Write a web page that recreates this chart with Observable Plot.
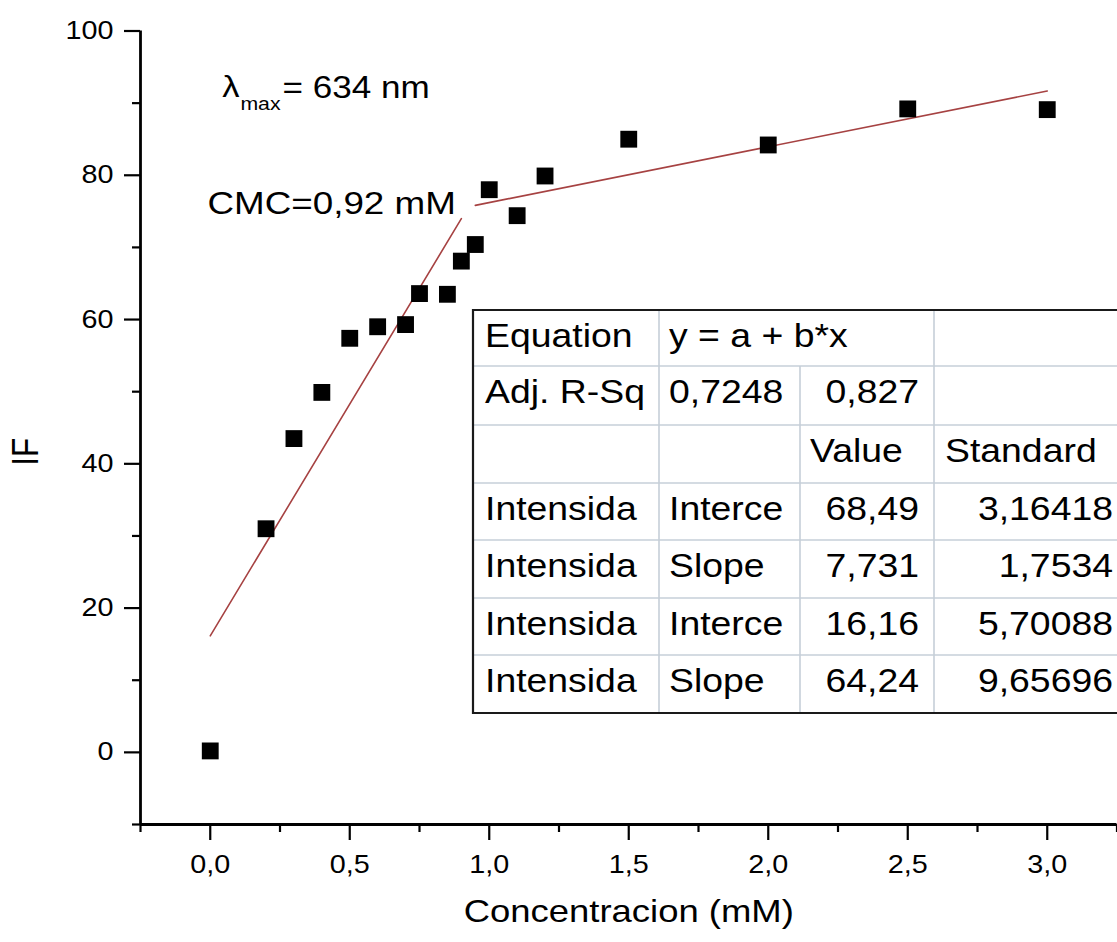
<!DOCTYPE html>
<html>
<head>
<meta charset="utf-8">
<script src="https://cdn.jsdelivr.net/npm/d3@7"></script>
<script src="https://cdn.jsdelivr.net/npm/@observablehq/plot@0.6"></script>
<style>
html, body { margin: 0; padding: 0; background: #fff; overflow: hidden; }
#chart svg { display: block; overflow: hidden; }
</style>
</head>
<body>
<div id="chart"></div>
<script>
// ---- data ----
const concentration = [0, 0.2, 0.3, 0.4, 0.5, 0.6, 0.7, 0.75, 0.85, 0.9, 0.95, 1.0, 1.1, 1.2, 1.5, 2.0, 2.5, 3.0];
const intensity     = [0.2, 31.0, 43.5, 49.9, 57.4, 59.0, 59.3, 63.6, 63.5, 68.1, 70.4, 78.0, 74.4, 79.9, 85.0, 84.2, 89.2, 89.1];

// linear fit segments (end points of the drawn fit lines)
const fitLowX  = [0, 0.9];
const fitLowY  = [16.16, 73.98];
const fitHighX = [0.95, 3.0];
const fitHighY = [75.83, 91.68];

const xMajorTicks = [0, 0.5, 1.0, 1.5, 2.0, 2.5, 3.0];
const xMinorTicks = [-0.25, 0.25, 0.75, 1.25, 1.75, 2.25, 2.75, 3.25];
const yMajorTicks = [0, 20, 40, 60, 80, 100];
const yMinorTicks = [-10, 10, 30, 50, 70, 90];

const xLabel = "Concentracion (mM)";
const yLabel = "IF";
const cmcLabel = "CMC=0,92 mM";
const lambdaParts = ["λ", "max", "= 634 nm"];

// fit-result table (text only)
const tableRows = [
  ["Equation", "y = a + b*x", "", ""],
  ["Adj. R-Sq", "0,7248", "0,827", ""],
  ["", "", "Value", "Standard"],
  ["Intensida", "Interce", "68,49", "3,16418"],
  ["Intensida", "Slope", "7,731", "1,7534"],
  ["Intensida", "Interce", "16,16", "5,70088"],
  ["Intensida", "Slope", "64,24", "9,65696"]
];

// ---- build tables for Plot ----
const points = concentration.map((c, i) => ({c, v: intensity[i]}));
const fitLow = fitLowX.map((x, i) => ({x, y: fitLowY[i]}));
const fitHigh = fitHighX.map((x, i) => ({x, y: fitHighY[i]}));

const FONT = "'Liberation Sans', Arial, Helvetica, sans-serif";
const commaFmt = d => d.toFixed(1).replace(".", ",");
const fitColor = "#a64242";

const plot = Plot.plot({
  width: 1117,
  height: 942,
  marginTop: 30.5,
  marginBottom: 118,
  marginLeft: 140,
  marginRight: 0.5,
  x: {domain: [-0.25, 3.25]},
  y: {domain: [-10, 100]},
  style: {fontFamily: FONT, background: "white", color: "black", overflow: "hidden"},
  marks: [
    Plot.axisX({ticks: xMajorTicks, tickSize: 16, tickPadding: 15, tickFormat: commaFmt, fontSize: 25, strokeWidth: 2.2, label: null}),
    Plot.axisX({ticks: xMinorTicks, tickSize: 8, tickFormat: () => "", strokeWidth: 2.2, label: null}),
    Plot.axisY({ticks: yMajorTicks, tickSize: 16, tickPadding: 11, tickFormat: d => String(d), fontSize: 25, strokeWidth: 2.2, label: null}),
    Plot.axisY({ticks: yMinorTicks, tickSize: 8, tickFormat: () => "", strokeWidth: 2.2, label: null}),
    Plot.ruleY([-10], {stroke: "black", strokeWidth: 2.8}),
    Plot.ruleX([-0.25], {stroke: "black", strokeWidth: 2.8}),
    Plot.line(fitLow, {x: "x", y: "y", stroke: fitColor, strokeWidth: 1.6}),
    Plot.line(fitHigh, {x: "x", y: "y", stroke: fitColor, strokeWidth: 1.6}),
    Plot.dot(points, {x: "c", y: "v", symbol: "square", r: 9.5, fill: "black", stroke: "none"}),
    // annotations
    Plot.text([lambdaParts[0]], {x: [0.043], y: [90.79], textAnchor: "start", lineAnchor: "bottom", fontSize: 30, fill: "black"}),
    Plot.text([lambdaParts[1]], {x: [0.108], y: [89.0], textAnchor: "start", lineAnchor: "bottom", fontSize: 18.5, fill: "black"}),
    Plot.text([lambdaParts[2]], {x: [0.259], y: [90.75], textAnchor: "start", lineAnchor: "bottom", fontSize: 30.5, fill: "black"}),
    Plot.text([cmcLabel], {x: [-0.01], y: [74.67], textAnchor: "start", lineAnchor: "bottom", fontSize: 32, fill: "black"}),
    // axis titles
    Plot.text([xLabel], {frameAnchor: "bottom", dy: 97.7, lineAnchor: "bottom", textAnchor: "middle", fontSize: 31.7, fill: "black"}),
    Plot.text([yLabel], {frameAnchor: "left", dx: -114, dy: 24, rotate: -90, lineAnchor: "middle", textAnchor: "middle", fontSize: 31.5, fill: "black"})
  ]
});

// ---- fit table drawn into the same svg ----
const svg = d3.select(plot);
const rowY = [310, 366, 425, 483, 540, 598, 655, 713];
const colX = [473, 659, 800, 934];
const tRight = 1140;
const tbl = svg.append("g").attr("font-family", FONT).attr("font-size", 32.5);
tbl.append("rect").attr("x", colX[0]).attr("y", rowY[0]).attr("width", tRight - colX[0]).attr("height", rowY[7] - rowY[0]).attr("fill", "white");
const grid = "#c6cfd8";
for (let r = 1; r < 7; r++) {
  tbl.append("line").attr("x1", colX[0]).attr("x2", tRight).attr("y1", rowY[r]).attr("y2", rowY[r]).attr("stroke", grid).attr("stroke-width", 1.6);
}
for (let r = 0; r < 7; r++) {
  [1, 2, 3].forEach(c => {
    if (r === 0 && c === 2) return; // merged cell for the equation
    tbl.append("line").attr("x1", colX[c]).attr("x2", colX[c]).attr("y1", rowY[r]).attr("y2", rowY[r + 1]).attr("stroke", grid).attr("stroke-width", 1.6);
  });
}
// outer border
tbl.append("path")
  .attr("d", `M${tRight},${rowY[0]}H${colX[0]}V${rowY[7]}H${tRight}`)
  .attr("fill", "none").attr("stroke", "#1a1a1a").attr("stroke-width", 2.2);

// cell text positions
function cellPos(r, c) {
  if (c === 0) return {x: 485, anchor: "start"};
  if (c === 1) return {x: 669, anchor: "start"};
  if (c === 2) return r === 2 ? {x: 810, anchor: "start"} : {x: 919, anchor: "end"};
  return r === 2 ? {x: 945, anchor: "start"} : {x: 1113, anchor: "end"};
}
tableRows.forEach((row, r) => {
  row.forEach((txt, c) => {
    if (!txt) return;
    const p = cellPos(r, c);
    tbl.append("text")
      .attr("transform", `translate(${p.x},${rowY[r] + 37})`)
      .attr("text-anchor", p.anchor)
      .attr("fill", "black")
      .text(txt);
  });
});

// ---- horizontal stretch of all text (the reference's type is ~15% wide) ----
const S = 1.15;
plot.querySelectorAll("text").forEach(t => {
  const tr = t.getAttribute("transform") || "";
  const m = tr.match(/^\s*translate\(\s*([-\d.eE]+)[\s,]+([-\d.eE]+)\s*\)/);
  let ax, ay;
  if (m) {
    ax = +m[1]; ay = +m[2];
    if (!/rotate/.test(tr)) ax += parseFloat(t.getAttribute("x") || 0) || 0;
  } else {
    ax = parseFloat(t.getAttribute("x") || 0) || 0;
    ay = parseFloat(t.getAttribute("y") || 0) || 0;
  }
  t.setAttribute("transform", `translate(${ax},${ay}) scale(${S},1) translate(${-ax},${-ay}) ${tr}`);
});

document.getElementById("chart").appendChild(plot);
</script>
</body>
</html>
